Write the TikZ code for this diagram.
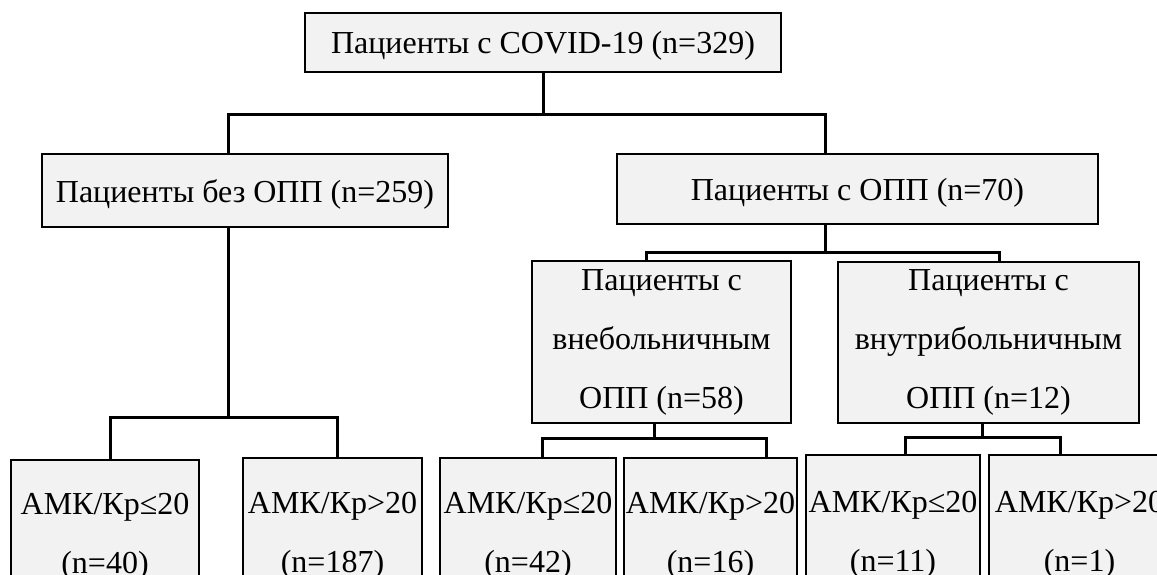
\documentclass[tikz,border=0pt]{standalone}
\usepackage{fontspec}
\setmainfont{Liberation Serif}
\usetikzlibrary{calc}
\definecolor{boxgray}{RGB}{242,242,242}
\newcommand{\boxfont}{\fontsize{32pt}{59pt}\selectfont}
\tikzstyle{patbox} = [rectangle, draw=black, line width=2pt, fill=boxgray, inner sep=0pt, font=\boxfont, text height=29pt, text depth=6pt]
\tikzstyle{subbox} = [rectangle, draw=black, line width=2pt, fill=boxgray, inner sep=0pt, font=\boxfont, align=center]
\tikzstyle{link} = [line width=3pt, draw=black]

\begin{document}
\begin{tikzpicture}[x=1pt, y=-1pt]
\useasboundingbox (0,0) rectangle (1157,575);
\clip (0,0) rectangle (1157,575);

% Top level
\node[patbox, minimum width=476pt, minimum height=59pt] (covid) at (543,42.5) {Пациенты с COVID-19 (n=329)};

% Second level
\node[patbox, minimum width=406pt, minimum height=73pt] (noaki) at (245,190.5) {Пациенты без ОПП (n=259)};
\node[patbox, minimum width=481pt, minimum height=70pt] (aki) at (857.5,189) {Пациенты с ОПП (n=70)};

% Third level
\node[subbox, minimum width=259pt, minimum height=162pt] (cap) at (661.5,342) {Пациенты с\\внебольничным\\ОПП (n=58)};
\node[subbox, minimum width=301pt, minimum height=161pt] (hap) at (988.5,342.5) {Пациенты с\\внутрибольничным\\ОПП (n=12)};

% Bottom level
\node[subbox, minimum width=188pt, minimum height=154pt] (noaki_lo) at (105,537) {АМК/Кр≤20\\(n=40)};
\node[subbox, minimum width=179pt, minimum height=156pt] (noaki_hi) at (332.5,536) {АМК/Кр>20\\(n=187)};
\node[subbox, minimum width=176pt, minimum height=156pt] (cap_lo) at (528,536) {АМК/Кр≤20\\(n=42)};
\node[subbox, minimum width=173pt, minimum height=156pt] (cap_hi) at (710.5,536) {АМК/Кр>20\\(n=16)};
\node[subbox, minimum width=174pt, minimum height=159pt] (hap_lo) at (893,534.5) {АМК/Кр≤20\\(n=11)};
\node[subbox, minimum width=181pt, minimum height=159pt] (hap_hi) at (1079.5,534.5) {АМК/Кр>20\\(n=1)};

% Bus levels
\coordinate (bus0) at (0,115);
\coordinate (bus1) at (0,417);
\coordinate (bus2) at (0,252);
\coordinate (bus3) at (0,438);
\coordinate (bus4) at (0,437);

% Links
\draw[link] (covid.south) |- ([xshift=-17pt]noaki.north |- bus0) -- ([xshift=-17pt]noaki.north);
\draw[link] (covid.south) |- ([xshift=-32pt]aki.north |- bus0) -- ([xshift=-32pt]aki.north);

\draw[link] ([xshift=-17pt]noaki.south) |- ([xshift=5pt]noaki_lo.north |- bus1) -- ([xshift=5pt]noaki_lo.north);
\draw[link] ([xshift=-17pt]noaki.south) |- ([xshift=5pt]noaki_hi.north |- bus1) -- ([xshift=5pt]noaki_hi.north);

\draw[link] ([xshift=-32pt]aki.south) |- ([xshift=-15.5pt]cap.north |- bus2) -- ([xshift=-15.5pt]cap.north);
\draw[link] ([xshift=-32pt]aki.south) |- ([xshift=10.5pt]hap.north |- bus2) -- ([xshift=10.5pt]hap.north);

\draw[link] ([xshift=-7.5pt]cap.south) |- ([xshift=14pt]cap_lo.north |- bus3) -- ([xshift=14pt]cap_lo.north);
\draw[link] ([xshift=-7.5pt]cap.south) |- ([xshift=55.5pt]cap_hi.north |- bus3) -- ([xshift=55.5pt]cap_hi.north);

\draw[link] ([xshift=-6.5pt]hap.south) |- ([xshift=12pt]hap_lo.north |- bus4) -- ([xshift=12pt]hap_lo.north);
\draw[link] ([xshift=-6.5pt]hap.south) |- ([xshift=-19.5pt]hap_hi.north |- bus4) -- ([xshift=-19.5pt]hap_hi.north);

\end{tikzpicture}
\end{document}
